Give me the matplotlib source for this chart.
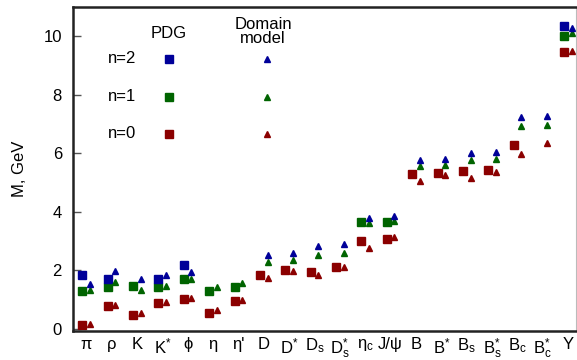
import numpy as np
import matplotlib.pyplot as plt

plt.rcParams['font.family'] = ['Liberation Sans', 'DejaVu Sans']
plt.rcParams['mathtext.default'] = 'regular'

nan = np.nan

mesons = ['π', 'ρ', 'K', 'K$^{*}$', 'ϕ', 'η', "η'", 'D', 'D$^{*}$', 'D$_{s}$',
          'D$_{s}^{*}$', 'η$_{c}$', 'J/ψ', 'B', 'B$^{*}$', 'B$_{s}$', 'B$_{s}^{*}$',
          'B$_{c}$', 'B$_{c}^{*}$', 'Υ']

# PDG masses, GeV
pdg_n0 = [0.14, 0.78, 0.47, 0.89, 1.03, 0.55, 0.96, 1.84, 2.01, 1.94,
          2.11, 2.98, 3.07, 5.27, 5.31, 5.38, 5.41, 6.27, nan, 9.45]
pdg_n1 = [1.30, 1.44, 1.47, 1.41, 1.68, 1.30, 1.41, nan, nan, nan,
          nan, 3.63, 3.66, nan, nan, nan, nan, nan, nan, 10.00]
pdg_n2 = [1.82, 1.70, nan, 1.70, 2.16, nan, nan, nan, nan, nan,
          nan, nan, nan, nan, nan, nan, nan, nan, nan, 10.34]

# domain model masses, GeV
model_n0 = [0.16, 0.80, 0.53, 0.91, 1.06, 0.64, 0.98, 1.74, 1.96, 1.85,
            2.11, 2.76, 3.12, 5.06, 5.24, 5.15, 5.37, 5.97, 6.33, 9.48]
model_n1 = [1.33, 1.60, 1.33, 1.47, 1.71, 1.42, 1.55, 2.29, 2.36, 2.53,
            2.59, 3.60, 3.68, 5.56, 5.61, 5.75, 5.79, 6.92, 6.95, 10.12]
model_n2 = [1.53, 1.98, 1.68, 1.82, 1.92, nan, nan, 2.52, 2.59, 2.83,
            2.89, 3.79, 3.84, 5.77, 5.80, 6.01, 6.04, 7.25, 7.28, 10.26]

colors = {'n=0': '#8b0000', 'n=1': '#006400', 'n=2': '#000099'}

fig = plt.figure(figsize=(5.77, 3.6), dpi=100)
ax = fig.add_axes([0.1265, 0.0806, 0.8715, 0.9004])

x = np.arange(1, len(mesons) + 1)

for key, pdg in [('n=0', pdg_n0), ('n=1', pdg_n1), ('n=2', pdg_n2)]:
    ax.plot(x - 0.1, pdg, 's', color=colors[key], markersize=6, linestyle='none')
for key, mod in [('n=0', model_n0), ('n=1', model_n1), ('n=2', model_n2)]:
    ax.plot(x + 0.2, mod, '^', color=colors[key], markersize=5, linestyle='none')

# hand-made legend
tr = ax.transAxes
ax.text(0.191, 0.917, 'PDG', transform=tr, ha='center', va='center', fontsize=12)
ax.text(0.378, 0.923, 'Domain\nmodel', transform=tr, ha='center', va='center',
        fontsize=12, linespacing=0.9)
for key, yy in [('n=2', 0.840), ('n=1', 0.722), ('n=0', 0.608)]:
    ax.text(0.097, yy, key, transform=tr, ha='center', va='center', fontsize=12)
    ax.plot([0.191], [yy], 's', color=colors[key], markersize=6, transform=tr)
    ax.plot([0.386], [yy], '^', color=colors[key], markersize=5, transform=tr)

ax.set_xlim(0.53, 20.35)
ax.set_ylim(-0.08, 11.0)
ax.set_yticks([0, 2, 4, 6, 8, 10])
ax.set_xticks(x + 0.05)
ax.set_xticklabels(mesons, fontsize=12)
ax.tick_params(axis='x', length=0, pad=4)
ax.tick_params(axis='y', direction='in', length=6, width=1, color='#555555',
               labelsize=12, pad=8)
ax.set_ylabel('M, GeV', fontsize=12, labelpad=12)

for s in ['left', 'bottom', 'top']:
    ax.spines[s].set_linewidth(1.8)
    ax.spines[s].set_color('#222222')
ax.spines['right'].set_color('#bbbbbb')

fig.savefig('out.png', dpi=100)
